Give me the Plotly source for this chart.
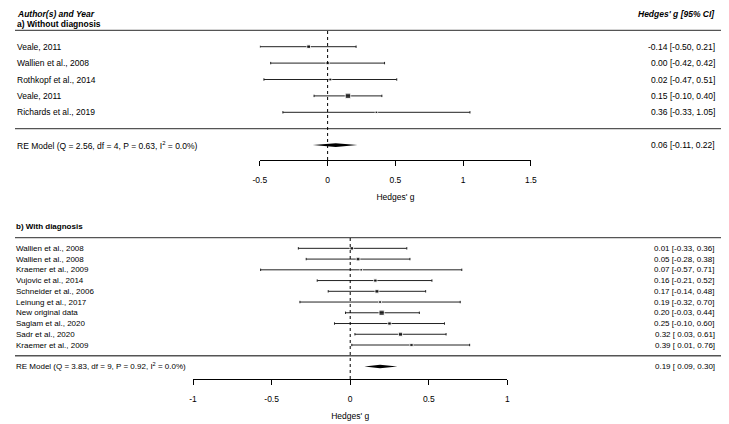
import plotly.graph_objects as go

# a) without diagnosis
labels_a = ["Veale, 2011", "Wallien et al., 2008", "Rothkopf et al., 2014",
            "Veale, 2011", "Richards et al., 2019"]
est_a = [-0.14, 0.00, 0.02, 0.15, 0.36]
lo_a = [-0.50, -0.42, -0.47, -0.10, -0.33]
hi_a = [0.21, 0.42, 0.51, 0.40, 1.05]
re_a = [0.06, -0.11, 0.22]
re_label_a = "RE Model (Q = 2.56, df = 4, P = 0.63, I<sup>2</sup> = 0.0%)"
ticks_a = [-0.5, 0, 0.5, 1, 1.5]
ticktext_a = ["-0.5", "0", "0.5", "1", "1.5"]

# b) with diagnosis
labels_b = ["Wallien et al., 2008", "Wallien et al., 2008", "Kraemer et al., 2009",
            "Vujovic et al., 2014", "Schneider et al., 2006", "Leinung et al., 2017",
            "New original data", "Saglam et al., 2020", "Sadr et al., 2020",
            "Kraemer et al., 2009"]
est_b = [0.01, 0.05, 0.07, 0.16, 0.17, 0.19, 0.20, 0.25, 0.32, 0.39]
lo_b = [-0.33, -0.28, -0.57, -0.21, -0.14, -0.32, -0.03, -0.10, 0.03, 0.01]
hi_b = [0.36, 0.38, 0.71, 0.52, 0.48, 0.70, 0.44, 0.60, 0.61, 0.76]
re_b = [0.19, 0.09, 0.30]
re_label_b = "RE Model (Q = 3.83, df = 9, P = 0.92, I<sup>2</sup> = 0.0%)"
ticks_b = [-1, -0.5, 0, 0.5, 1]
ticktext_b = ["-1", "-0.5", "0", "0.5", "1"]

FONT = "Liberation Sans, Arial, sans-serif"
W, H = 729, 424
OX, OY = 8, 8  # page body margin around the plot


def px(x):
    return max(x - OX, 0) / W


def py(y):
    return 1 - (y - OY) / H


def ci_text(e, l, h):
    lo_s = f"{l:.2f}" if l < 0 else f" {l:.2f}"
    return f"{e:.2f} [{lo_s}, {h:.2f}]"


def sizes(lo, hi, smin, srange):
    # square size from inverse-variance weight
    w = [1 / ((h - l) / 3.92) ** 2 for l, h in zip(lo, hi)]
    return [smin + srange * (x - min(w)) / (max(w) - min(w)) for x in w]


def txt(fig, x, y, yref, text, anchor, size, yanchor="middle"):
    fig.add_annotation(x=px(x), xref="paper", y=y, yref=yref, text=text,
                       xanchor=anchor, yanchor=yanchor, showarrow=False, borderpad=0,
                       font=dict(size=size, family=FONT, color="black"))


fig = go.Figure()


def add_panel(fig, xa, ya, labels, est, lo, hi, re, re_label, msize, fsize,
              lab_x, re_x, dh):
    rows = list(range(len(labels), 0, -1))
    # confidence intervals
    fig.add_trace(go.Scatter(
        x=est, y=rows, mode="markers", xaxis=xa, yaxis=ya, cliponaxis=False,
        marker=dict(size=1, opacity=0),
        error_x=dict(type="data", symmetric=False,
                     array=[h - e for e, h in zip(est, hi)],
                     arrayminus=[e - l for e, l in zip(est, lo)],
                     color="#222", thickness=1, width=1.2),
        showlegend=False, hoverinfo="skip"))
    # point estimates
    fig.add_trace(go.Scatter(
        x=est, y=rows, mode="markers", xaxis=xa, yaxis=ya, cliponaxis=False,
        marker=dict(symbol="square", size=msize, color="black"),
        showlegend=False, hoverinfo="skip"))
    # summary diamond
    e, l, h = re
    fig.add_trace(go.Scatter(
        x=[l, e, h, e, l], y=[-1, -1 + dh, -1, -1 - dh, -1], mode="lines",
        fill="toself", fillcolor="black", line=dict(color="black", width=0),
        xaxis=xa, yaxis=ya, cliponaxis=False, showlegend=False, hoverinfo="skip"))
    for r, lab, e_, l_, h_ in zip(rows, labels, est, lo, hi):
        txt(fig, lab_x, r, ya, lab, "left", fsize)
        txt(fig, 722, r, ya, ci_text(e_, l_, h_), "right", fsize)
    txt(fig, re_x, -1, ya, re_label, "left", fsize)
    txt(fig, 722, -1, ya, ci_text(e, l, h), "right", fsize)


FA, FB = 8.5, 8
add_panel(fig, "x", "y", labels_a, est_a, lo_a, hi_a, re_a, re_label_a,
          sizes(lo_a, hi_a, 2.5, 3), FA, 9, 9, 0.11)
add_panel(fig, "x2", "y2", labels_b, est_b, lo_b, hi_b, re_b, re_label_b,
          sizes(lo_b, hi_b, 2.5, 2.8), FB, 8, 2, 0.17)

# rows -> pixels: panel a row 1 at y=112.3, 16.4 px per row; panel b row 1 at 345, 10.74 px
ya_range = [1 + (112.3 - 160) / 16.4, 1 + (112.3 - OY) / 16.4]
yb_range = [1 + (345 - 379) / 10.74, 1 + (345 - 205) / 10.74]

# header texts
for x, anchor, text in ((9, "left", "<b><i>Author(s) and Year</i></b>"),
                        (722, "right", "<b><i>Hedges' g [95% CI]</i></b>")):
    fig.add_annotation(x=px(x), xref="paper", y=1, yref="paper", text=text,
                       xanchor=anchor, yanchor="top", showarrow=False, borderpad=0,
                       font=dict(size=FA, family=FONT, color="black"))
txt(fig, 9, 1 + (112.3 - 24) / 16.4, "y", "<b>a) Without diagnosis</b>", "left", FA)
txt(fig, 3, 12, "y2", "<b>b) With diagnosis</b>", "left", FB)

# separators and reference lines
for yref, ys in (("y", [len(labels_a) + 1, 0]), ("y2", [len(labels_b) + 1, 0])):
    for yv in ys:
        fig.add_shape(type="line", xref="paper", x0=px(3), x1=px(727), yref=yref,
                      y0=yv, y1=yv, line=dict(color="#555", width=1.3))
fig.add_shape(type="line", xref="x", yref="y", x0=0, x1=0, y0=ya_range[0],
              y1=len(labels_a) + 1, line=dict(color="black", width=1, dash="dot"))
fig.add_shape(type="line", xref="x2", yref="y2", x0=0, x1=0, y0=yb_range[0],
              y1=len(labels_b) + 1, line=dict(color="black", width=1, dash="dot"))

axis_common = dict(showgrid=False, zeroline=False, showline=True, linecolor="black",
                   linewidth=1, ticks="outside", ticklen=5, tickcolor="black",
                   tickfont=dict(size=FA, family=FONT, color="black"),
                   ticklabelstandoff=7)
title_font = dict(size=FA, family=FONT, color="black")
fig.update_layout(
    width=W, height=H, margin=dict(l=0, r=0, t=0, b=0),
    paper_bgcolor="white", plot_bgcolor="white",
    xaxis=dict(domain=[px(257.3), px(533.3)], range=[-0.5, 1.5], anchor="y",
               tickvals=ticks_a, ticktext=ticktext_a,
               title=dict(text="Hedges' g", standoff=9, font=title_font),
               **axis_common),
    yaxis=dict(domain=[py(160), 1], range=ya_range, visible=False),
    xaxis2=dict(domain=[px(189.3), px(509.3)], range=[-1, 1], anchor="y2",
                tickvals=ticks_b, ticktext=ticktext_b,
                title=dict(text="Hedges' g", standoff=9, font=title_font),
                **axis_common),
    yaxis2=dict(domain=[py(379), py(205)], range=yb_range, visible=False),
)

fig.write_html("out.html")
